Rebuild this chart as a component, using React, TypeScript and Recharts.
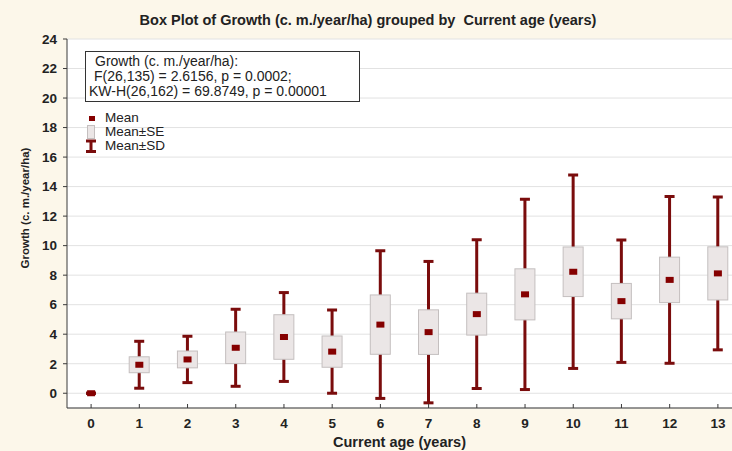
import {
  Bar,
  CartesianGrid,
  ComposedChart,
  Scatter,
  XAxis,
  YAxis,
} from 'recharts';

const ages = [0, 1, 2, 3, 4, 5, 6, 7, 8, 9, 10, 11, 12, 13];
const means = [0, 1.93, 2.29, 3.08, 3.81, 2.82, 4.65, 4.14, 5.36, 6.7, 8.23, 6.24, 7.68, 8.12];
const stdErrors = [0, 0.54, 0.57, 1.07, 1.51, 1.06, 2.01, 1.51, 1.42, 1.73, 1.68, 1.2, 1.54, 1.8];
const stdDevs = [0, 1.59, 1.57, 2.61, 3.01, 2.82, 5.0, 4.79, 5.04, 6.45, 6.55, 4.15, 5.65, 5.18];
const yTicks = [0, 2, 4, 6, 8, 10, 12, 14, 16, 18, 20, 22, 24];

const statLines = [
  'Growth (c. m./year/ha):',
  'F(26,135) = 2.6156, p = 0.0002;',
  'KW-H(26,162) = 69.8749, p = 0.00001',
];

const data = ages.map((age, i) => ({
  age,
  mean: means[i],
  se: [means[i] - stdErrors[i], means[i] + stdErrors[i]],
  sd: [means[i] - stdDevs[i], means[i] + stdDevs[i]],
}));

const FONT = '"Liberation Sans", Arial, sans-serif';
const WHISKER = '#7a0c0c';
const MEAN = '#850000';
const AXIS = '#3a3a3a';
const CREAM = '#fcf7ea';

function BottomTick({ x, y, payload }: any) {
  return (
    <g>
      <line x1={x} y1={y} x2={x} y2={y - 4} stroke={AXIS} />
      <text
        x={x}
        y={y + 20}
        textAnchor="middle"
        fontFamily={FONT}
        fontSize={13.5}
        fontWeight={700}
        fill="#222"
      >
        {payload.value}
      </text>
    </g>
  );
}

function TopTick({ x, y }: any) {
  return <line x1={x} y1={y} x2={x} y2={y + 4} stroke={AXIS} />;
}

// mean ± SD as an I-beam
function Whisker({ x, y, width, height }: any) {
  const cx = x + width / 2;
  const top = Math.min(y, y + height);
  const bottom = Math.max(y, y + height);
  return (
    <g stroke={WHISKER} strokeWidth={3}>
      <line x1={cx} y1={top} x2={cx} y2={bottom} />
      <line x1={cx - 5} y1={top} x2={cx + 5} y2={top} />
      <line x1={cx - 5} y1={bottom} x2={cx + 5} y2={bottom} />
    </g>
  );
}

// mean ± SE box
function SeBox({ x, y, width, height }: any) {
  const h = Math.abs(height);
  if (h < 0.5) return <g />;
  return (
    <rect
      x={x}
      y={Math.min(y, y + height)}
      width={width}
      height={h}
      fill="#ebe6e6"
      stroke="#c4bfbf"
    />
  );
}

function MeanMark({ cx, cy }: any) {
  return <rect x={cx - 4} y={cy - 3} width={8} height={6} fill={MEAN} />;
}

function YTitle() {
  return (
    <text
      transform="translate(26,208) rotate(-90)"
      textAnchor="middle"
      dominantBaseline="middle"
      fontFamily={FONT}
      fontSize={11.5}
      fontWeight={700}
      fill="#222"
    >
      Growth (c. m./year/ha)
    </text>
  );
}

export default function App() {
  return (
    <div
      style={{
        position: 'fixed',
        left: 0,
        top: 0,
        width: 732,
        height: 451,
        overflow: 'hidden',
        background: CREAM,
        fontFamily: FONT,
      }}
    >
      <div
        style={{
          position: 'absolute',
          left: 0,
          top: 12,
          width: 732,
          textAlign: 'center',
          fontSize: 14.5,
          fontWeight: 700,
          color: '#222',
          paddingLeft: 2,
        }}
      >
        Box Plot of Growth (c. m./year/ha) grouped by&nbsp; Current age (years)
      </div>

      <ComposedChart
        width={760}
        height={451}
        data={data}
        margin={{ top: 39, right: 18, bottom: 0, left: 0 }}
      >
        <CartesianGrid vertical={false} stroke="#e2e2e2" fill="#ffffff" />
        <XAxis
          dataKey="age"
          height={43}
          axisLine={{ stroke: AXIS }}
          tickLine={false}
          tickSize={0}
          tickMargin={0}
          tick={<BottomTick />}
          interval={0}
          label={{
            value: 'Current age (years)',
            position: 'insideBottom',
            offset: 4,
            dx: -5,
            fontFamily: FONT,
            fontSize: 14.5,
            fontWeight: 700,
            fill: '#222',
          }}
        />
        <XAxis
          xAxisId="top"
          dataKey="age"
          orientation="top"
          height={0}
          axisLine={{ stroke: AXIS }}
          tickLine={false}
          tickSize={0}
          tickMargin={0}
          tick={<TopTick />}
          interval={0}
        />
        <YAxis
          width={67}
          domain={[-1, 24]}
          ticks={yTicks}
          interval={0}
          allowDataOverflow
          axisLine={{ stroke: AXIS }}
          tickLine={{ stroke: AXIS }}
          tickSize={4}
          tickMargin={6}
          tick={{ fontFamily: FONT, fontSize: 13.5, fontWeight: 700, fill: '#222' }}
          label={{ content: <YTitle /> }}
        />
        <Bar
          xAxisId="top"
          dataKey="sd"
          barSize={10}
          shape={<Whisker />}
          isAnimationActive={false}
        />
        <Bar dataKey="se" barSize={20} shape={<SeBox />} isAnimationActive={false} />
        <Scatter dataKey="mean" shape={<MeanMark />} isAnimationActive={false} />
      </ComposedChart>

      <div
        style={{
          position: 'absolute',
          left: 85,
          top: 51,
          width: 273,
          height: 47,
          border: '1px solid #333',
          background: '#fff',
          fontSize: 14,
          lineHeight: '15px',
          paddingTop: 2,
          color: '#222',
          whiteSpace: 'nowrap',
        }}
      >
        <div style={{ marginLeft: 9 }}>{statLines[0]}</div>
        <div style={{ marginLeft: 8 }}>{statLines[1]}</div>
        <div style={{ marginLeft: 3 }}>{statLines[2]}</div>
      </div>

      <div
        style={{
          position: 'absolute',
          left: 84,
          top: 111,
          fontSize: 13.5,
          lineHeight: '14px',
          color: '#222',
        }}
      >
        <div style={{ display: 'flex', alignItems: 'center', height: 14 }}>
          <svg width={21} height={14}>
            <rect x={5} y={5} width={6} height={5} fill={MEAN} />
          </svg>
          <span>Mean</span>
        </div>
        <div style={{ display: 'flex', alignItems: 'center', height: 14 }}>
          <svg width={21} height={14}>
            <rect x={3.5} y={0.5} width={7} height={13} fill="#ebe6e6" stroke="#c4bfbf" />
          </svg>
          <span>Mean±SE</span>
        </div>
        <div style={{ display: 'flex', alignItems: 'center', height: 14 }}>
          <svg width={21} height={14}>
            <line x1={7} y1={2} x2={7} y2={13} stroke={WHISKER} strokeWidth={3} />
            <line x1={2} y1={2} x2={12} y2={2} stroke={WHISKER} strokeWidth={3} />
            <line x1={2} y1={12.5} x2={12} y2={12.5} stroke={WHISKER} strokeWidth={3} />
          </svg>
          <span>Mean±SD</span>
        </div>
      </div>
    </div>
  );
}
